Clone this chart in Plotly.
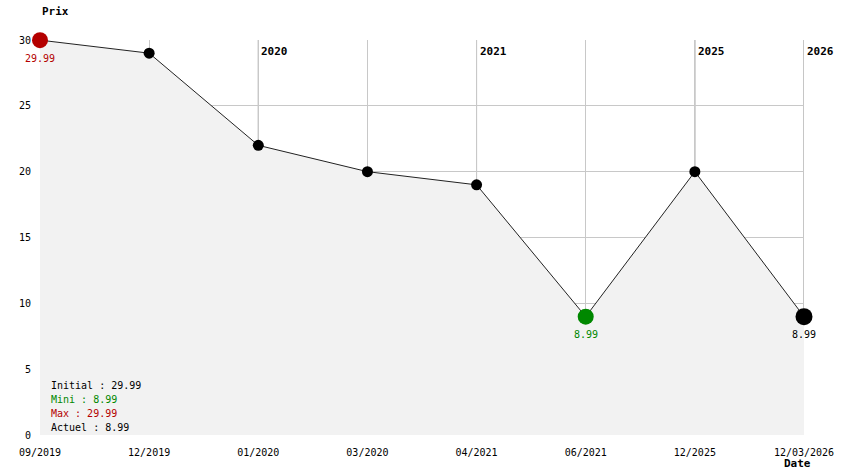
import plotly.graph_objects as go

dates = ["09/2019", "12/2019", "01/2020", "03/2020", "04/2021", "06/2021", "12/2025", "12/03/2026"]
prix = [29.99, 29, 22, 20, 19, 8.99, 20, 8.99]
annees = ["2020", "2021", "2025", "2026"]
annee_idx = [2, 4, 6, 7]

MONO = "DejaVu Sans Mono"
ROUGE = "#b40000"
VERT = "#008800"

x = list(range(len(dates)))
i_max = prix.index(max(prix))
i_min = prix.index(min(prix))
i_last = len(prix) - 1

colors, sizes = [], []
for i in x:
    if i == i_max:
        colors.append(ROUGE); sizes.append(16)
    elif i == i_min:
        colors.append(VERT); sizes.append(16)
    elif i == i_last:
        colors.append("black"); sizes.append(17)
    else:
        colors.append("black"); sizes.append(11)

fig = go.Figure()
fig.add_trace(go.Scatter(
    x=x, y=prix, mode="lines+markers",
    fill="tozeroy", fillcolor="#f2f2f2",
    line=dict(color="#222222", width=1),
    marker=dict(color=colors, size=sizes, opacity=1, line=dict(width=0)),
    cliponaxis=False, hoverinfo="skip", showlegend=False,
))

# lignes des années
for idx in annee_idx:
    fig.add_shape(type="line", xref="x", yref="paper", x0=idx, x1=idx, y0=0, y1=1,
                  line=dict(color="#8c8c8c", width=1), layer="below")

annotations = []
for lab, idx in zip(annees, annee_idx):
    annotations.append(dict(x=idx, y=0.972, xref="x", yref="paper", text="<b>" + lab + "</b>",
                            showarrow=False, xanchor="left", yanchor="middle", xshift=1,
                            font=dict(family=MONO, size=11, color="black")))

for i, c in [(i_max, ROUGE), (i_min, VERT), (i_last, "black")]:
    annotations.append(dict(x=i, y=prix[i], xref="x", yref="y", text=f"{prix[i]:.2f}",
                            showarrow=False, yshift=-18, xanchor="center", yanchor="middle",
                            font=dict(family=MONO, size=10, color=c)))

stats = [("Initial : %.2f" % prix[0], "black"),
         ("Mini : %.2f" % min(prix), VERT),
         ("Max : %.2f" % max(prix), ROUGE),
         ("Actuel : %.2f" % prix[-1], "black")]
for k, (txt, c) in enumerate(stats):
    annotations.append(dict(x=9 / 764, y=(435 - 385 - 14 * k) / 395, xref="paper", yref="paper",
                            text=txt, showarrow=False, xanchor="left", yanchor="middle",
                            font=dict(family=MONO, size=10, color=c)))

annotations.append(dict(x=0, y=1.071, xref="paper", yref="paper", text="<b>Prix</b>",
                        showarrow=False, xanchor="left", yanchor="middle",
                        font=dict(family=MONO, size=11, color="black")))
annotations.append(dict(x=(782 - 40) / 764, y=-0.071, xref="paper", yref="paper", text="<b>Date</b>",
                        showarrow=False, xanchor="left", yanchor="middle",
                        font=dict(family=MONO, size=11, color="black")))

fig.update_layout(
    width=844, height=474,
    margin=dict(l=40, r=40, t=40, b=39),
    paper_bgcolor="white", plot_bgcolor="white",
    annotations=annotations,
    xaxis=dict(range=[0, 7], tickvals=x, ticktext=dates, showgrid=True, gridcolor="#c8c8c8",
               gridwidth=1, zeroline=False, showline=False, ticks="", ticklabelstandoff=10,
               automargin=False, tickfont=dict(family=MONO, size=10, color="black")),
    yaxis=dict(range=[0, 30], tickvals=[0, 5, 10, 15, 20, 25, 30], showgrid=True, gridcolor="#c8c8c8",
               gridwidth=1, zeroline=False, showline=False, ticks="", ticklabelstandoff=8,
               automargin=False, tickfont=dict(family=MONO, size=10, color="black")),
)

fig.write_html("out.html", config={"displayModeBar": False},
               post_script="document.body.style.margin='0';")
